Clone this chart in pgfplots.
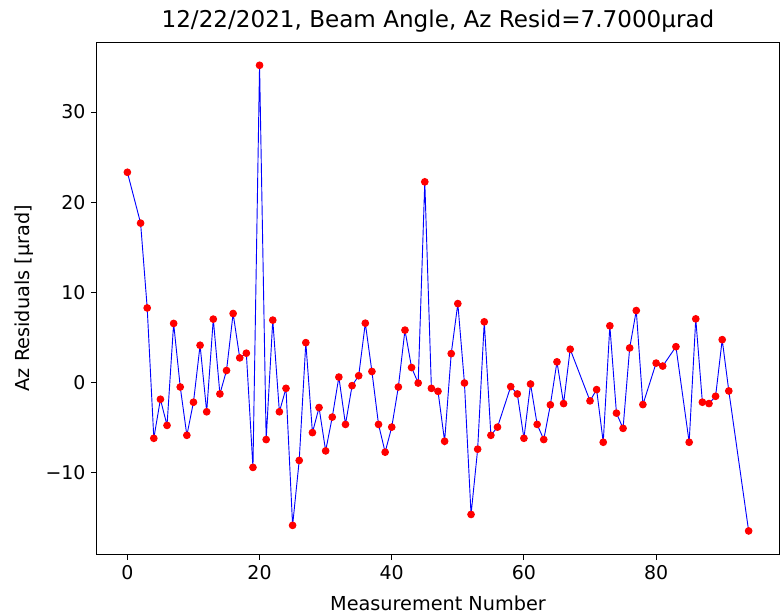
\documentclass[border=0pt]{standalone}
\usepackage{fontspec}
\setmainfont{DejaVu Sans}
\usepackage{pgfplots}
\pgfplotsset{compat=1.18}
\begin{document}
\begin{tikzpicture}
\path[use as bounding box] (-63pt,-39pt) rectangle (448.5pt,362.5pt);
\begin{axis}[
  at={(0,0)}, anchor=south west,
  scale only axis,
  width=447pt, height=335pt,
  xmin=-4.7, xmax=98.7,
  ymin=-19.06, ymax=37.76,
  xtick={0,20,40,60,80},
  ytick={-10,0,10,20,30},
  yticklabels={−10,0,10,20,30},
  tick pos=left,
  tick align=outside,
  major tick length=3.5pt,
  every tick/.style={black, line width=0.6pt},
  axis line style={line width=0.6pt},
  /pgf/number format/assume math mode=true,
  tick label style={font=\fontsize{12.4}{14}\selectfont},
  every axis title/.style={at={(axis description cs:0.5,1.0293)}, anchor=base, font=\fontsize{15.1}{18}\selectfont},
  every axis x label/.style={at={(axis description cs:0.5,-0.1104)}, anchor=base, font=\fontsize{12.6}{14}\selectfont},
  every axis y label/.style={at={(axis description cs:-0.098,0.5)}, anchor=base, rotate=90, font=\fontsize{12.6}{14}\selectfont},
  title={12/22/2021, Beam Angle, Az Resid=7.7000μrad},
  xlabel={Measurement Number},
  ylabel={Az Residuals [μrad]},
]
\addplot[blue, line width=0.6pt, mark=*, mark size=2.2pt,
  mark options={draw=red, fill=red}] coordinates {
(0,23.31) (2,17.67) (3,8.26) (4,-6.20) (5,-1.87) (6,-4.77) (7,6.54) (8,-0.51)
(9,-5.87) (10,-2.20) (11,4.12) (12,-3.26) (13,7.02) (14,-1.28) (15,1.32)
(16,7.64) (17,2.72) (18,3.24) (19,-9.43) (20,35.18) (21,-6.34) (22,6.91)
(23,-3.26) (24,-0.66) (25,-15.86) (26,-8.66) (27,4.41) (28,-5.57) (29,-2.79)
(30,-7.60) (31,-3.85) (32,0.59) (33,-4.66) (34,-0.36) (35,0.74) (36,6.57)
(37,1.21) (38,-4.66) (39,-7.74) (40,-4.96) (41,-0.51) (42,5.80) (43,1.65)
(44,-0.07) (45,22.25) (46,-0.66) (47,-0.99) (48,-6.53) (49,3.19) (50,8.74)
(51,-0.07) (52,-14.65) (53,-7.41) (54,6.72) (55,-5.87) (56,-4.96) (58,-0.47)
(59,-1.28) (60,-6.20) (61,-0.18) (62,-4.66) (63,-6.34) (64,-2.49) (65,2.28)
(66,-2.35) (67,3.68) (70,-2.05) (71,-0.80) (72,-6.64) (73,6.28) (74,-3.41)
(75,-5.10) (76,3.82) (77,7.97) (78,-2.46) (80,2.14) (81,1.81) (83,3.96)
(85,-6.64) (86,7.05) (87,-2.20) (88,-2.35) (89,-1.54) (90,4.74) (91,-0.95)
(94,-16.48)
};
\end{axis}
\end{tikzpicture}
\end{document}
